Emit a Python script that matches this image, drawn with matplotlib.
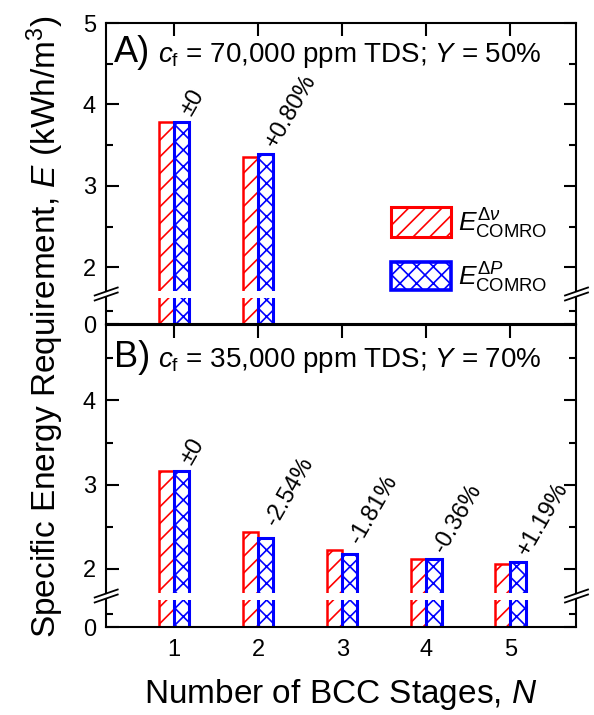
import matplotlib
matplotlib.use("Agg")
import matplotlib.pyplot as plt
from matplotlib.patches import Rectangle
from matplotlib.lines import Line2D
from matplotlib.ticker import FixedLocator

plt.rcParams['font.family'] = ['Liberation Sans', 'DejaVu Sans']
plt.rcParams['mathtext.fontset'] = 'custom'
plt.rcParams['mathtext.rm'] = 'Liberation Sans'
plt.rcParams['mathtext.it'] = 'Liberation Sans:italic'
plt.rcParams['mathtext.bf'] = 'Liberation Sans:bold'
plt.rcParams['hatch.linewidth'] = 1.2

# ---- data ----
stages = [1, 2, 3, 4, 5]
A_stages = [1, 2]
A_dnu = [3.79, 3.36]
A_dP = [3.79, 3.387]
A_labels = ['±0', '+0.80%']
B_dnu = [3.158, 2.434, 2.221, 2.122, 2.059]
B_dP = [3.158, 2.372, 2.181, 2.114, 2.084]
B_labels = ['±0', '-2.54%', '-1.81%', '-0.36%', '+1.19%']
A_title = r'$c_\mathrm{f}$ = 70,000 ppm TDS; $Y$ = 50%'
B_title = r'$c_\mathrm{f}$ = 35,000 ppm TDS; $Y$ = 70%'

W, H = 594, 715
fig = plt.figure(figsize=(W / 100, H / 100), dpi=100)

def rect(l, t, r, b):
    return [l / W, 1 - b / H, (r - l) / W, (b - t) / H]

RED = '#FF0000'
BLUE = '#0000FF'
bw = 0.18
XL, XR = 105.7, 576

def style(ax, upper, show_top, show_bottom, xlabels):
    ax.set_xlim(0.185, 5.78)
    for s in ax.spines.values():
        s.set_linewidth(1.5)
    ax.tick_params(which='both', direction='in', width=1.5, labelsize=17,
                   left=True, right=True, pad=7)
    ax.tick_params(which='major', length=9)
    ax.tick_params(which='minor', length=5)
    ax.xaxis.set_major_locator(FixedLocator(stages))
    ax.tick_params(axis='x', top=show_top, bottom=show_bottom,
                   labelbottom=xlabels, pad=9)
    if upper:
        ax.spines['bottom'].set_visible(False)
    else:
        ax.spines['top'].set_visible(False)
    ax.set_axisbelow(True)

def bars(ax, xs, v1, v2):
    xs1 = [x - bw / 2 for x in xs]
    xs2 = [x + bw / 2 for x in xs]
    ax.bar(xs1, v1, width=bw, facecolor='white', edgecolor=RED,
           hatch='//', linewidth=1.8)
    ax.bar(xs2, v2, width=bw, facecolor='white', edgecolor=BLUE,
           hatch='xx', linewidth=2.2)

def panel(top_up, bot_up, top_lo, bot_lo, ylim_up, xs, v1, v2, labels,
          letter, title, base_px, last):
    axu = fig.add_axes(rect(XL, top_up, XR, bot_up))
    axl = fig.add_axes(rect(XL, top_lo, XR, bot_lo))
    bars(axu, xs, v1, v2)
    bars(axl, xs, v1, v2)
    axu.set_ylim(*ylim_up)
    axu.yaxis.set_major_locator(FixedLocator([2, 3, 4, 5]))
    axu.yaxis.set_minor_locator(FixedLocator([2.5, 3.5, 4.5]))
    axl.set_ylim(0, 1)
    axl.yaxis.set_major_locator(FixedLocator([0]))
    axl.yaxis.set_minor_locator(FixedLocator([0.5]))
    style(axu, True, True, False, False)
    style(axl, False, False, last, last)
    for x, a, b, lab in zip(xs, v1, v2, labels):
        axu.text(x + 0.26, max(a, b) + 0.03, lab, rotation=60,
                 rotation_mode='anchor', ha='left', va='bottom', fontsize=17)
    yb = 1 - (base_px - top_up) / (bot_up - top_up)
    axu.text((114 - XL) / (XR - XL), yb, letter, transform=axu.transAxes,
             fontsize=26, ha='left', va='baseline')
    axu.text((158 - XL) / (XR - XL), yb, title, transform=axu.transAxes,
             fontsize=20, ha='left', va='baseline')
    # break marks
    for xc in (XL, XR):
        for dy in (0, 5):
            y0 = bot_up + 3.5 + dy
            fig.add_artist(Line2D([(xc - 11) / W, (xc + 12) / W],
                                  [1 - (y0 + 1) / H, 1 - (y0 - 7) / H],
                                  color='black', linewidth=1.3))
    return axu, axl

axAu, axAl = panel(23, 291, 298, 324.5, (1.71, 5.0), A_stages, A_dnu, A_dP,
                   A_labels, 'A)', A_title, 62, False)
axBu, axBl = panel(324.5, 593, 600, 627, (1.715, 4.9), stages, B_dnu, B_dP,
                   B_labels, 'B)', B_title, 367, True)

# legend (manual)
for (y0, y1, col, hat, lw, lab) in [
        (207, 237, RED, '//', 2.2, r'$E^{\Delta\nu}_{\mathrm{COMRO}}$'),
        (262, 290, BLUE, 'xx', 2.6, r'$E^{\Delta P}_{\mathrm{COMRO}}$')]:
    fig.add_artist(Rectangle((391 / W, 1 - y1 / H), 60 / W, (y1 - y0) / H,
                             facecolor='white', edgecolor=col, hatch=hat,
                             linewidth=lw, transform=fig.transFigure))
    fig.text(458 / W, 1 - (y0 + y1) / 2 / H - 0.002, lab, fontsize=19,
             ha='left', va='center')

fig.text(45 / W, 1 - 327 / H, r'Specific Energy Requirement, $E$ (kWh/m$^3$)',
         rotation=90, ha='center', va='center', fontsize=24)
fig.text(341 / W, 1 - 703 / H, r'Number of BCC Stages, $N$', ha='center',
         va='baseline', fontsize=24)

fig.savefig('out.png', dpi=100)
